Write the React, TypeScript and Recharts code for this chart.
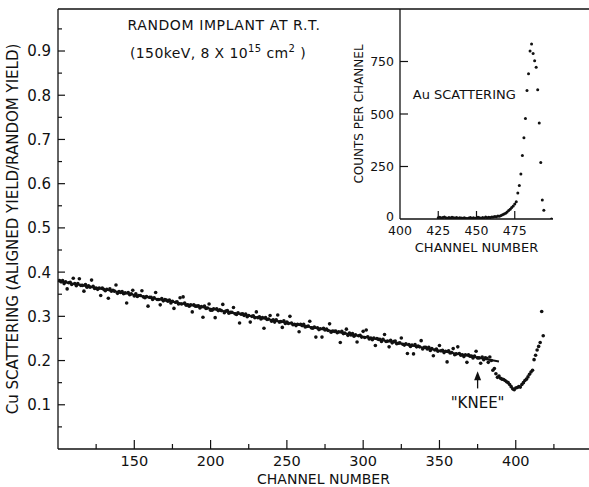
import { ComposedChart, Scatter, XAxis, YAxis, ReferenceLine, ReferenceDot, Label } from 'recharts';

// Cu scattering, aligned/random yield, one value per channel from 101
const cuStartChannel = 101;
const cuYield = [
  0.381, 0.378, 0.381, 0.374, 0.378, 0.362, 0.376, 0.377, 0.372, 0.386, // 101-110
  0.374, 0.369, 0.374, 0.385, 0.370, 0.370, 0.357, 0.372, 0.366, 0.369, // 111-120
  0.366, 0.382, 0.368, 0.363, 0.364, 0.361, 0.364, 0.347, 0.364, 0.361, // 121-130
  0.358, 0.361, 0.341, 0.362, 0.357, 0.359, 0.357, 0.371, 0.352, 0.356, // 131-140
  0.354, 0.356, 0.351, 0.353, 0.330, 0.354, 0.349, 0.351, 0.359, 0.346, // 141-150
  0.351, 0.345, 0.347, 0.347, 0.358, 0.344, 0.342, 0.345, 0.323, 0.343, // 151-160
  0.343, 0.338, 0.342, 0.354, 0.338, 0.338, 0.326, 0.340, 0.335, 0.338, // 161-170
  0.337, 0.334, 0.337, 0.330, 0.334, 0.318, 0.332, 0.333, 0.328, 0.342, // 171-180
  0.328, 0.344, 0.330, 0.325, 0.326, 0.323, 0.326, 0.310, 0.326, 0.323, // 181-190
  0.323, 0.324, 0.319, 0.322, 0.298, 0.323, 0.318, 0.319, 0.328, 0.314, // 191-200
  0.314, 0.317, 0.297, 0.317, 0.313, 0.315, 0.313, 0.327, 0.308, 0.312, // 201-210
  0.313, 0.307, 0.309, 0.309, 0.320, 0.306, 0.304, 0.308, 0.285, 0.305, // 211-220
  0.306, 0.302, 0.305, 0.299, 0.302, 0.287, 0.300, 0.301, 0.297, 0.310, // 221-230
  0.297, 0.299, 0.294, 0.297, 0.273, 0.297, 0.293, 0.294, 0.302, 0.289, // 231-240
  0.292, 0.287, 0.292, 0.303, 0.287, 0.288, 0.275, 0.290, 0.284, 0.287, // 241-250
  0.284, 0.300, 0.285, 0.281, 0.282, 0.279, 0.282, 0.265, 0.282, 0.279, // 251-260
  0.282, 0.276, 0.277, 0.278, 0.289, 0.274, 0.273, 0.276, 0.253, 0.274, // 261-270
  0.270, 0.272, 0.253, 0.273, 0.269, 0.271, 0.268, 0.283, 0.264, 0.267, // 271-280
  0.266, 0.267, 0.263, 0.265, 0.241, 0.266, 0.261, 0.262, 0.271, 0.257, // 281-290
  0.262, 0.258, 0.261, 0.255, 0.258, 0.242, 0.256, 0.257, 0.253, 0.266, // 291-300
  0.252, 0.269, 0.254, 0.249, 0.251, 0.247, 0.251, 0.234, 0.250, 0.248, // 301-310
  0.248, 0.243, 0.248, 0.259, 0.243, 0.244, 0.231, 0.246, 0.240, 0.243, // 311-320
  0.244, 0.238, 0.239, 0.240, 0.251, 0.237, 0.235, 0.238, 0.216, 0.236, // 321-330
  0.232, 0.235, 0.215, 0.236, 0.231, 0.233, 0.231, 0.245, 0.226, 0.230, // 331-340
  0.230, 0.226, 0.230, 0.223, 0.227, 0.211, 0.224, 0.226, 0.221, 0.234, // 341-350
  0.222, 0.223, 0.218, 0.221, 0.197, 0.222, 0.217, 0.218, 0.227, 0.213, // 351-360
  0.215, 0.231, 0.216, 0.212, 0.213, 0.209, 0.213, 0.196, 0.213, 0.210, // 361-370
  0.210, 0.206, 0.210, 0.221, 0.206, 0.206, 0.194, 0.208, 0.202, 0.206, // 371-380
  0.205, 0.196, 0.208, 0.200, 0.178, 0.182, 0.170, 0.162, 0.165, 0.160, // 381-390
  0.158, 0.157, 0.155, 0.152, 0.150, 0.146, 0.141, 0.136, 0.134, 0.138, // 391-400
  0.139, 0.141, 0.140, 0.146, 0.150, 0.155, 0.158, 0.163, 0.169, 0.174, // 401-410
  0.178, 0.202, 0.212, 0.224, 0.232, 0.241, 0.311, 0.256, // 411-418
];

// straight-line fit through the Cu points
const fitChannels = [100, 389];
const fitYield = [0.38, 0.198];

const mainXDomain = [100, 448];
const mainYMax = 0.995;
const mainXTicks = [125, 150, 175, 200, 225, 250, 275, 300, 325, 350, 375, 400, 425];
const mainYTicks = [0.05, 0.1, 0.15, 0.2, 0.25, 0.3, 0.35, 0.4, 0.45, 0.5, 0.55, 0.6, 0.65, 0.7, 0.75, 0.8, 0.85, 0.9, 0.95];

// "KNEE" marker
const kneeChannel = 375;
const kneeArrow = [0.137, 0.176];
const kneeTextYield = 0.105;

// inset: Au scattering, counts per channel from 425
const auStartChannel = 425;
const auCounts = [
  6, 8, 5, 7, 9, 6, 4, 7, 5, 8, 6, 5, 7, 4, 6, 5, // 425-440
  3, 6, 4, 2, 5, 7, 4, 6, 3, 5, 8, 6, 4, 7, 5, 9, 6, 8, 7, 10, // 441-460
  9, 12, 11, 14, 13, 17, 20, 24, 27, 33, 40, 47, 55, 62, 72, 82, // 461-476
  124, 160, 214, 302, 387, 478, 612, 692, 800, 833, 788, 753, 723, 615, 457, 269, 90, 42, // 477-494
];
const auEndChannel = 499;
const auEndCount = 0;
const insetXTicks = [400, 425, 450, 475];
const insetYTicks = [0, 250, 500, 750];

const FONT = "'DejaVu Sans', sans-serif";
const INK = '#111';

const cuData = cuYield.map((y, i) => ({ x: cuStartChannel + i, y }));
const auData = [
  ...auCounts.map((y, i) => ({ x: auStartChannel + i, y })),
  { x: auEndChannel, y: auEndCount },
];

const Dot = (p: any) => <circle cx={p.cx} cy={p.cy} r={1.8} fill={INK} />;
const SmallDot = (p: any) => <circle cx={p.cx} cy={p.cy} r={1.5} fill={INK} />;

const MainXTick = (p: any) => {
  const v = p.payload.value;
  const major = v % 50 === 0;
  return (
    <g>
      <line x1={p.x} y1={p.y} x2={p.x} y2={p.y - (major ? 9 : 5)} stroke={INK} strokeWidth={1.2} />
      {major && (
        <text x={p.x} y={p.y + 17} textAnchor="middle" fontSize={14.5} fontFamily={FONT} fill={INK}>
          {v}
        </text>
      )}
    </g>
  );
};

const MainYTick = (p: any) => {
  const v = p.payload.value;
  const major = Math.round(v * 100) % 10 === 0;
  return (
    <g>
      <line x1={p.x} y1={p.y} x2={p.x + (major ? 7 : 4)} y2={p.y} stroke={INK} strokeWidth={1.2} />
      {major && (
        <text x={p.x - 7} y={p.y} dy="0.36em" textAnchor="end" fontSize={15} fontFamily={FONT} fill={INK}>
          {v.toFixed(1)}
        </text>
      )}
    </g>
  );
};

const InsetXTick = (p: any) => {
  const v = p.payload.value;
  return (
    <g>
      {v !== 400 && <line x1={p.x} y1={p.y} x2={p.x} y2={p.y - 8} stroke={INK} strokeWidth={1.2} />}
      <text x={p.x} y={p.y + 16} textAnchor="middle" fontSize={12.5} fontFamily={FONT} fill={INK}>
        {v}
      </text>
    </g>
  );
};

const InsetYTick = (p: any) => {
  const v = p.payload.value;
  return (
    <g>
      {v !== 0 && <line x1={p.x} y1={p.y} x2={p.x + 8} y2={p.y} stroke={INK} strokeWidth={1.2} />}
      <text
        x={p.x - 6}
        y={v === 0 ? p.y - 3 : p.y}
        dy="0.36em"
        textAnchor="end"
        fontSize={12.5}
        fontFamily={FONT}
        fill={INK}
      >
        {v}
      </text>
    </g>
  );
};

const ArrowHead = (p: any) => (
  <path d={`M${p.cx},${p.cy} L${p.cx - 3.5},${p.cy + 9} L${p.cx + 3.5},${p.cy + 9} Z`} fill={INK} />
);

const KneeText = (p: any) => (
  <text x={p.cx} y={p.cy} dy="0.36em" textAnchor="middle" fontSize={15} fontFamily={FONT} fill={INK}>
    "KNEE"
  </text>
);

const AuText = (p: any) => (
  <text x={p.cx} y={p.cy} dy="0.36em" textAnchor="middle" fontSize={13} fontFamily={FONT} fill={INK}>
    Au SCATTERING
  </text>
);

export default function App() {
  return (
    <div style={{ position: 'absolute', left: 0, top: 0, width: 589, height: 487, background: '#fff' }}>
      <ComposedChart width={589} height={487} margin={{ top: 9, right: 0, left: 0, bottom: 0 }}>
        <XAxis
          type="number"
          dataKey="x"
          domain={mainXDomain}
          ticks={mainXTicks}
          interval={0}
          allowDataOverflow
          height={38}
          tickSize={0}
          tickMargin={0}
          tickLine={false}
          tick={MainXTick}
          axisLine={{ stroke: INK, strokeWidth: 1.3 }}
        >
          <Label value="CHANNEL NUMBER" position="insideBottom" offset={3} fontSize={14} fontFamily={FONT} fill={INK} />
        </XAxis>
        <YAxis
          type="number"
          dataKey="y"
          domain={[0, mainYMax]}
          ticks={mainYTicks}
          interval={0}
          allowDataOverflow
          width={58}
          tickSize={0}
          tickMargin={0}
          tickLine={false}
          tick={MainYTick}
          axisLine={{ stroke: INK, strokeWidth: 1.3 }}
        >
          <Label
            value="Cu SCATTERING (ALIGNED YIELD/RANDOM YIELD)"
            angle={-90}
            position="insideLeft"
            offset={13}
            fontSize={15}
            fontFamily={FONT}
            fill={INK}
            style={{ textAnchor: 'middle' }}
          />
        </YAxis>
        <ReferenceLine y={mainYMax} stroke={INK} strokeWidth={1.3} />
        <ReferenceLine
          segment={[
            { x: fitChannels[0], y: fitYield[0] },
            { x: fitChannels[1], y: fitYield[1] },
          ]}
          stroke={INK}
          strokeWidth={2}
        />
        <Scatter data={cuData} dataKey="y" shape={Dot} isAnimationActive={false} />
        <ReferenceLine
          segment={[
            { x: kneeChannel, y: kneeArrow[0] },
            { x: kneeChannel, y: kneeArrow[1] - 0.01 },
          ]}
          stroke={INK}
          strokeWidth={1.3}
        />
        <ReferenceDot x={kneeChannel} y={kneeArrow[1]} shape={ArrowHead} />
        <ReferenceDot x={kneeChannel} y={kneeTextYield} shape={KneeText} />
      </ComposedChart>

      <svg
        width={589}
        height={487}
        style={{ position: 'absolute', left: 0, top: 0, pointerEvents: 'none' }}
        fontFamily={FONT}
        fill={INK}
      >
        <text x={224} y={25} dy="0.36em" textAnchor="middle" fontSize={14} letterSpacing={0.6}>
          RANDOM IMPLANT AT R.T.
        </text>
        <text x={218} y={53} dy="0.36em" textAnchor="middle" fontSize={14} letterSpacing={0.4}>
          (150keV, 8 X 10<tspan dy="-6" fontSize={10}>15</tspan>
          <tspan dy="6"> cm</tspan>
          <tspan dy="-6" fontSize={10}>2</tspan>
          <tspan dy="6"> )</tspan>
        </text>
      </svg>

      <div style={{ position: 'absolute', left: 340, top: 0 }}>
        <ComposedChart width={249} height={260} margin={{ top: 9, right: 36, left: 0, bottom: 0 }}>
          <XAxis
            type="number"
            dataKey="x"
            domain={[400, 500]}
            ticks={insetXTicks}
            interval={0}
            allowDataOverflow
            height={41}
            tickSize={0}
            tickMargin={0}
            tickLine={false}
            tick={InsetXTick}
            axisLine={{ stroke: INK, strokeWidth: 1.3 }}
          >
            <Label value="CHANNEL NUMBER" position="insideBottom" offset={8} fontSize={13} fontFamily={FONT} fill={INK} />
          </XAxis>
          <YAxis
            type="number"
            dataKey="y"
            domain={[0, 1000]}
            ticks={insetYTicks}
            interval={0}
            allowDataOverflow
            width={60}
            tickSize={0}
            tickMargin={0}
            tickLine={false}
            tick={InsetYTick}
            axisLine={{ stroke: INK, strokeWidth: 1.3 }}
          >
            <Label
              value="COUNTS PER CHANNEL"
              angle={-90}
              position="insideLeft"
              offset={19}
              fontSize={12}
              fontFamily={FONT}
              fill={INK}
              style={{ textAnchor: 'middle' }}
            />
          </YAxis>
          <Scatter data={auData} dataKey="y" shape={SmallDot} isAnimationActive={false} />
          <ReferenceDot x={442} y={595} shape={AuText} />
        </ComposedChart>
      </div>
    </div>
  );
}
